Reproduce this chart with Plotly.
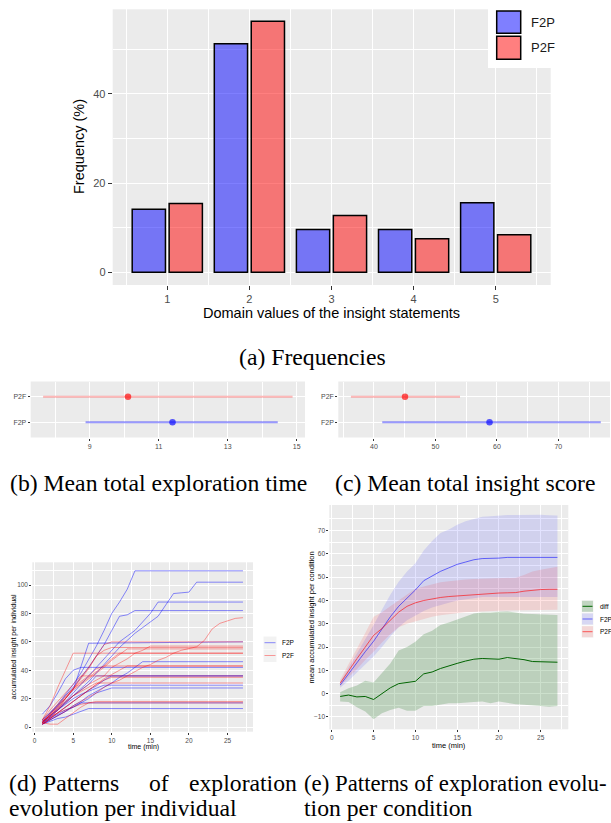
import plotly.graph_objects as go

W, H = 611, 823
SANS = "Liberation Sans, Arial, sans-serif"
SERIF = "Liberation Serif, Times New Roman, serif"


def px(x):
    return x / W


def py(y):
    return 1 - y / H


# ---------------- data ----------------
conditions = ["F2P", "P2F"]

# (a) frequencies (%)
domain_values = [1, 2, 3, 4, 5]
freq_f2p = [14.1, 51.2, 9.6, 9.6, 15.6]
freq_p2f = [15.4, 56.2, 12.7, 7.5, 8.4]

# (b) mean total exploration time  [F2P, P2F]
time_mean = [11.40, 10.11]
time_low = [8.88, 7.65]
time_high = [14.45, 14.88]

# (c) mean total insight score  [F2P, P2F]
score_mean = [58.8, 45.05]
score_low = [41.35, 36.25]
score_high = [76.9, 54.0]

# (d) accumulated insight per individual (time in minutes, value)
f2p_ind_t = [
    [1, 2, 3, 4, 5, 6, 7, 8, 9, 10, 11, 12, 13, 27],
    [1, 2, 3, 4, 5, 6, 7, 8, 9, 10, 11, 12, 13, 14, 15, 16, 17, 18, 19, 20, 21, 27],
    [1, 2, 3, 4, 5, 6, 7, 8, 9, 10, 11, 12, 13, 14, 15, 16, 27],
    [1, 2, 3, 4, 5, 6, 7, 8, 9, 10, 11, 12, 13, 27],
    [1, 2, 3, 4, 5, 6, 7, 27],
    [1, 2, 3, 4, 5, 6, 7, 8, 9, 10, 11, 12, 13, 14, 27],
    [1, 2, 3, 4, 5, 6, 27],
    [1, 2, 3, 4, 5, 6, 7, 8, 27],
    [1, 2, 3, 4, 5, 6, 7, 8, 9, 27],
    [1, 2, 3, 4, 5, 6, 7, 8, 9, 10, 27],
    [1, 2, 3, 4, 5, 6, 27],
    [1, 2, 3, 4, 5, 6, 7, 27],
    [1, 2, 3, 4, 5, 6, 7, 8, 9, 10, 27],
]
f2p_ind_v = [
    [5, 10, 16, 23, 30, 38, 47, 57, 68, 80, 88, 97, 110, 110],
    [3, 7, 12, 17, 22, 27, 32, 38, 44, 50, 56, 61, 66, 70, 74, 78, 86, 94, 94.5, 95, 102, 102],
    [4, 8, 13, 18, 24, 30, 36, 42, 48, 54, 60, 64, 68, 74, 80, 88, 88],
    [3, 9, 15, 22, 28, 35, 42, 50, 58, 68, 78, 79, 82, 82],
    [5, 10, 15, 20, 26, 42, 59, 60],
    [2, 5, 8, 11, 15, 18, 22, 25, 28, 31, 35, 38, 42, 46, 46],
    [9, 15, 24, 34, 40, 42, 42],
    [3, 7, 12, 17, 22, 26, 30, 36, 36],
    [4, 8, 12, 16, 20, 23, 25, 27, 29.5, 29.5],
    [2, 5, 8, 11, 14, 17, 20, 24, 26, 27.5, 27.5],
    [3, 6, 9, 12, 14, 17, 17],
    [2, 4, 6, 7, 9, 11, 13, 13],
    [2, 6, 10, 14, 18, 22, 26, 29, 33, 36, 36],
]
p2f_ind_t = [
    [1, 2, 3, 4, 5, 6, 7, 8, 9, 10, 11, 12, 13, 14, 15, 16, 17, 18, 19, 20, 21, 22, 23, 24, 25, 26, 27],
    [1, 2, 3, 4, 5, 27],
    [1, 2, 3, 4, 5, 6, 7, 8, 9, 10, 27],
    [1, 2, 3, 4, 5, 6, 7, 8, 9, 10, 11, 12, 13, 14, 15, 27],
    [1, 2, 3, 4, 5, 6, 7, 8, 9, 10, 27],
    [1, 2, 3, 4, 5, 6, 7, 8, 9, 10, 11, 12, 27],
    [1, 2, 3, 4, 5, 6, 7, 8, 9, 10, 11, 27],
    [1, 2, 3, 4, 5, 6, 7, 8, 9, 27],
    [1, 2, 3, 4, 5, 6, 7, 8, 9, 10, 11, 12, 27],
    [1, 2, 3, 4, 5, 6, 27],
    [1, 2, 3, 4, 5, 6, 7, 8, 9, 10, 27],
    [1, 2, 3, 4, 5, 6, 7, 8, 27],
    [1, 2, 3, 4, 5, 6, 7, 8, 27],
    [1, 2, 3, 4, 5, 6, 7, 27],
]
p2f_ind_v = [
    [2, 5, 8, 11, 15, 18, 21, 24, 28, 31, 33, 36, 39, 42, 44, 47, 49, 52, 54, 55.5, 56.5, 61, 69, 73, 75, 76.5, 77],
    [5, 15, 28, 40, 52, 52],
    [3, 8, 14, 20, 27, 34, 41, 50, 58, 60, 60],
    [4, 8, 12, 17, 22, 26, 30, 33, 36, 42, 45, 48, 52, 54, 57, 57],
    [2, 6, 12, 20, 27, 35, 42, 50, 54, 56, 56],
    [3, 9, 15, 21, 26, 30, 34, 38, 42, 47, 51, 55, 55],
    [4, 10, 16, 22, 27, 31, 35, 39, 43, 48, 52, 52],
    [3, 9, 14, 20, 27, 32, 36, 41, 43, 43],
    [2, 6, 10, 14, 18, 22, 26, 30, 34, 37, 40, 43, 43],
    [5, 12, 18, 24, 30, 36, 36],
    [2, 6, 10, 14, 18, 22, 26, 30, 33, 35, 35],
    [3, 8, 13, 18, 22, 25, 28, 31, 31],
    [3, 2, 2, 6, 10, 14, 17, 18, 18],
    [4, 7, 10, 12, 14, 16, 17, 17],
]

# (e) mean accumulated insight per condition
minutes = [1, 2, 3, 4, 5, 6, 7, 8, 9, 10, 11, 12, 13, 14, 15, 16, 17, 18, 19, 20, 21, 22, 23, 24, 25, 26, 27]
f2p_mean = [3.7, 8.5, 13.5, 18, 22.5, 28, 33, 37.5, 41, 44.5, 48.5, 50.5, 52.5, 54, 55.5, 56.5, 57.5, 58, 58, 58.2, 58.5, 58.5, 58.5, 58.5, 58.5, 58.5, 58.5]
f2p_upper = [5, 11, 17.5, 23.5, 29.5, 36, 42.5, 48, 52.5, 56, 61.5, 65.5, 69, 70.5, 72.5, 74, 75, 76, 76.2, 76.5, 76.7, 76.7, 76.8, 76.8, 76.8, 76.6, 76.5]
f2p_lower = [2.5, 5.5, 9, 12.5, 16, 20, 24.5, 28.5, 31.5, 33.5, 35.5, 37, 38, 39, 40, 40.5, 41, 41.5, 41.5, 41.5, 41.5, 41.5, 41.5, 41.5, 41.5, 41.5, 41.5]
p2f_mean = [4.5, 10, 15, 20, 25, 28, 31.5, 35, 37.5, 39, 40, 40.8, 41.3, 41.7, 42, 42.3, 42.6, 42.9, 43.1, 43.2, 43.3, 43.4, 44, 44.5, 44.7, 44.8, 44.8]
p2f_upper = [6, 12.5, 19, 26, 33, 35, 37.5, 40, 42.5, 45, 46, 47, 47.8, 48.3, 48.8, 49, 49.2, 49.3, 49.4, 49.5, 49.6, 49.8, 51, 52.4, 53.2, 54, 54.5]
p2f_lower = [3, 7, 10.5, 14.5, 18, 22, 25.5, 28.5, 30, 31, 32, 33, 33.7, 34.2, 34.5, 35, 35.2, 35.4, 35.5, 35.6, 35.7, 35.8, 35.8, 35.9, 36, 36, 36]
diff_mean = [-1.2, -0.6, -1.4, -1.2, -2.5, 0.2, 2.5, 4.3, 4.8, 5.3, 8.5, 9.3, 10.8, 12, 13, 14, 14.8, 15.1, 15, 14.8, 15.5, 15.2, 14.6, 13.8, 13.6, 13.5, 13.5]
diff_upper = [0.6, 2.3, 3.5, 5.5, 4.8, 9, 13, 18.5, 20, 22.3, 25.5, 27, 29.5, 30.5, 31.8, 33, 34.4, 34.8, 34.8, 35.2, 35.3, 34.8, 34.3, 34.2, 34, 33.8, 33.8]
diff_lower = [-3.4, -3.6, -5.8, -7.7, -11, -8.4, -7, -6, -7.3, -7.3, -5.3, -5.3, -4.8, -4.1, -4.1, -3.9, -3.6, -3.4, -4.1, -3.4, -4, -4.5, -4.8, -4.9, -5.3, -5.6, -5.3]

# tick values shown in panel (e)
e_y_ticks = [-10, 0, 10, 20, 30, 40, 50, 60, 70]
e_y_minor = [-5, 5, 15, 25, 35, 45, 55, 65, 75]

# ---------------- styles ----------------
BLUE_BAR = "rgba(0,0,255,0.5)"
RED_BAR = "rgba(255,0,0,0.5)"
TICK_GRAY = "#4D4D4D"

fig = go.Figure()

# (a) bars
fig.add_trace(go.Bar(x=domain_values, y=freq_f2p, name=conditions[0],
                     marker=dict(color=BLUE_BAR, line=dict(color="black", width=1.5)),
                     xaxis="x", yaxis="y", showlegend=False))
fig.add_trace(go.Bar(x=domain_values, y=freq_p2f, name=conditions[1],
                     marker=dict(color=RED_BAR, line=dict(color="black", width=1.5)),
                     xaxis="x", yaxis="y", showlegend=False))


# (b) and (c) interval plots
def interval(mean, low, high, ax, ay):
    specs = [(1, "rgba(255,0,0,0.28)", "rgba(255,0,0,0.65)"),
             (0, "rgba(0,0,255,0.40)", "rgba(0,0,255,0.65)")]
    for i, lc, mc in specs:
        fig.add_trace(go.Scatter(
            x=[mean[i]], y=[conditions[i]], mode="markers",
            marker=dict(color=mc, size=6.5),
            error_x=dict(type="data", symmetric=False,
                         array=[high[i] - mean[i]], arrayminus=[mean[i] - low[i]],
                         width=0, thickness=1.8, color=lc),
            xaxis=ax, yaxis=ay, showlegend=False))


interval(time_mean, time_low, time_high, "x2", "y2")
interval(score_mean, score_low, score_high, "x3", "y3")

# (d) individual lines
for t, v in zip(f2p_ind_t, f2p_ind_v):
    fig.add_trace(go.Scatter(x=t, y=v, mode="lines",
                             line=dict(color="rgba(0,0,255,0.45)", width=1),
                             xaxis="x4", yaxis="y4", showlegend=False, hoverinfo="skip"))
for t, v in zip(p2f_ind_t, p2f_ind_v):
    fig.add_trace(go.Scatter(x=t, y=v, mode="lines",
                             line=dict(color="rgba(255,0,0,0.38)", width=1),
                             xaxis="x4", yaxis="y4", showlegend=False, hoverinfo="skip"))

# (e) ribbons and means
ribbons = [
    (diff_upper, diff_lower, "rgba(0,100,0,0.2)"),
    (f2p_upper, f2p_lower, "rgba(0,0,255,0.11)"),
    (p2f_upper, p2f_lower, "rgba(255,0,0,0.11)"),
]
for up, lo, fc in ribbons:
    fig.add_trace(go.Scatter(x=minutes + minutes[::-1], y=up + lo[::-1],
                             fill="toself", fillcolor=fc, mode="lines",
                             line=dict(width=0, color="rgba(0,0,0,0)"),
                             xaxis="x5", yaxis="y5", showlegend=False, hoverinfo="skip"))
for m, lc in [(diff_mean, "#006400"), (f2p_mean, "rgba(0,0,255,0.55)"), (p2f_mean, "rgba(255,0,0,0.6)")]:
    fig.add_trace(go.Scatter(x=minutes, y=m, mode="lines", line=dict(color=lc, width=1),
                             xaxis="x5", yaxis="y5", showlegend=False))


# ---------------- axes ----------------
def axis(domain, rng, anchor, fsize, gw=1.0, ticklen=2, **kw):
    d = dict(domain=domain, range=rng, anchor=anchor, showgrid=True, gridcolor="white",
             gridwidth=gw, zeroline=False, showline=False, ticks="outside",
             ticklen=ticklen, tickwidth=0.8, tickcolor="#333333",
             tickfont=dict(size=fsize, color=TICK_GRAY, family=SANS), fixedrange=True)
    d.update(kw)
    return d


def minor(dt, t0=0):
    return dict(dtick=dt, tick0=t0, showgrid=True, gridcolor="white", gridwidth=0.5)


layout_axes = dict(
    xaxis=axis([px(112.7), px(550.7)], [0.335, 5.67], "y", 11, gw=1.2, ticklen=4,
               tickmode="linear", tick0=0, dtick=1, minor=minor(0.5)),
    yaxis=axis([py(285), py(9.3)], [-2.84, 58.9], "x", 11, gw=1.2, ticklen=4,
               tickmode="linear", tick0=0, dtick=20, minor=minor(10)),
    xaxis2=axis([px(30.7), px(305)], [7.29, 15.24], "y2", 7, gw=0.9,
                tickmode="linear", tick0=1, dtick=2, minor=minor(1)),
    yaxis2=axis([py(437.5), py(381.5)], [-0.6, 1.6], "x2", 7, gw=0.9,
                type="category", categoryorder="array", categoryarray=conditions),
    xaxis3=axis([px(338.3), px(610)], [34.2, 78.4], "y3", 7, gw=0.9,
                tickmode="linear", tick0=0, dtick=10, minor=minor(5)),
    yaxis3=axis([py(437.5), py(381.5)], [-0.6, 1.6], "x3", 7, gw=0.9,
                type="category", categoryorder="array", categoryarray=conditions),
    xaxis4=axis([px(32.3), px(253)], [-0.3, 28.3], "y4", 6.5, gw=0.8,
                tickmode="linear", tick0=0, dtick=5, minor=minor(2.5)),
    yaxis4=axis([py(731.7), py(562.3)], [-3.3, 116], "x4", 6.5, gw=0.8,
                tickmode="linear", tick0=0, dtick=20, minor=minor(10)),
    xaxis5=axis([px(329.3), px(568.3)], [-0.3, 28.3], "y5", 6.5, gw=0.8,
                tickmode="linear", tick0=0, dtick=5, minor=minor(2.5)),
    yaxis5=axis([py(729.3), py(505)], [-15.3, 81], "x5", 6.5, gw=0.8,
                tickmode="array", tickvals=e_y_ticks,
                minor=dict(tickmode="array", tickvals=e_y_minor, showgrid=True,
                           gridcolor="white", gridwidth=0.5)),
)

# ---------------- legends / titles / captions ----------------
shapes = []
annotations = []


def rect(x0, y0, x1, y1, fill, lc="rgba(0,0,0,0)", lw=0):
    shapes.append(dict(type="rect", xref="paper", yref="paper", x0=px(x0), x1=px(x1),
                       y0=py(y1), y1=py(y0), fillcolor=fill, line=dict(color=lc, width=lw),
                       layer="above"))


def hline(x0, x1, y, color, lw=1):
    shapes.append(dict(type="line", xref="paper", yref="paper", x0=px(x0), x1=px(x1),
                       y0=py(y), y1=py(y), line=dict(color=color, width=lw), layer="above"))


def text(s, x, y, size, family=SANS, color="black", xanchor="center", yanchor="middle", angle=0):
    annotations.append(dict(text=s, x=px(x), y=py(y), xref="paper", yref="paper",
                            xanchor=xanchor, yanchor=yanchor, showarrow=False, textangle=angle,
                            font=dict(size=size, family=family, color=color)))


# (a) legend
rect(488, 0, 551, 68, "white")
rect(496.7, 11, 520.7, 33.3, BLUE_BAR, "black", 1.5)
rect(496.7, 36.3, 520.7, 59.3, RED_BAR, "black", 1.5)
text(conditions[0], 529, 22.2, 13, xanchor="left", color="#1A1A1A")
text(conditions[1], 529, 47.8, 13, xanchor="left", color="#1A1A1A")

# (a) axis titles
text("Frequency (%)", 79, 147, 14.5, angle=-90)
text("Domain values of the insight statements", 331.7, 313.5, 14.5)

# (d) legend
rect(263.5, 636.5, 276.5, 649, "#F2F2F2")
rect(263.5, 649.5, 276.5, 662, "#F2F2F2")
hline(264.5, 275.5, 642.7, "rgba(0,0,255,0.45)", 1)
hline(264.5, 275.5, 655.5, "rgba(255,0,0,0.38)", 1)
text(conditions[0], 279.5, 642.7, 6.5, xanchor="left")
text(conditions[1], 279.5, 655.5, 6.5, xanchor="left")
text("accumulated insight per individual", 13.5, 647, 7, angle=-90)
text("time (min)", 143, 746.5, 7)

# (e) legend
legend_e = [("diff", 606.3, "rgba(0,100,0,0.2)", "#006400"),
            (conditions[0], 619.0, "rgba(0,0,255,0.11)", "rgba(0,0,255,0.55)"),
            (conditions[1], 631.7, "rgba(255,0,0,0.11)", "rgba(255,0,0,0.6)")]
for lab, yc, fc, lc in legend_e:
    rect(581.5, yc - 6, 593.5, yc + 6, "#F2F2F2")
    rect(582, yc - 5.5, 593, yc + 5.5, fc)
    hline(582.5, 592.5, yc, lc, 1)
    text(lab, 597.5, yc, 6.5, xanchor="left")
text("mean accumulated insight per condition", 311, 617.5, 7.5, angle=-90)
text("time (min)", 449, 745.5, 7.5)

# captions
CAP = 23.7
text("(a) Frequencies", 312, 357, CAP, family=SERIF)
text("(b) Mean total exploration time", 8, 483, CAP, family=SERIF, xanchor="left")
text("(c) Mean total insight score", 333, 483, CAP, family=SERIF, xanchor="left")
text("(d)", 7, 783, CAP, family=SERIF, xanchor="left")
text("Patterns", 41, 783, CAP, family=SERIF, xanchor="left")
text("of", 147, 783, CAP, family=SERIF, xanchor="left")
text("exploration", 299, 783, CAP, family=SERIF, xanchor="right")
text("evolution per individual", 7, 808, CAP, family=SERIF, xanchor="left")
text("(e) Patterns of exploration evolu-", 302, 783, 22.8, family=SERIF, xanchor="left")
text("tion per condition", 302, 808, CAP, family=SERIF, xanchor="left")

fig.update_layout(
    width=W, height=H, autosize=False,
    margin=dict(l=0, r=0, t=0, b=0),
    paper_bgcolor="white", plot_bgcolor="#EBEBEB",
    barmode="group", bargap=0.1, bargroupgap=0.1,
    showlegend=False,
    shapes=shapes, annotations=annotations,
    font=dict(family=SANS),
    **layout_axes,
)

fig.write_html("out.html", config={"displayModeBar": False},
               post_script="document.body.style.margin='0';document.body.style.overflow='hidden';")
